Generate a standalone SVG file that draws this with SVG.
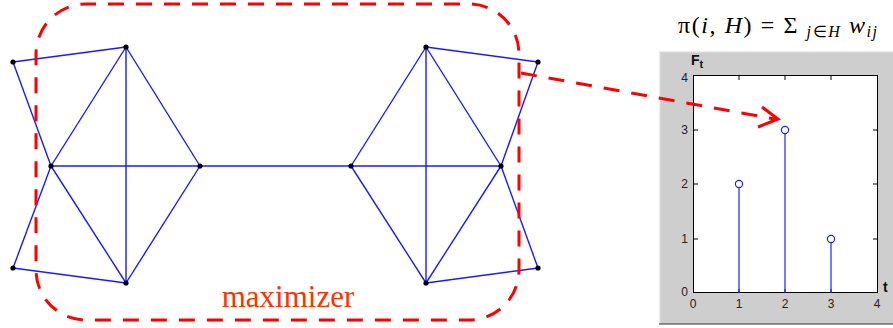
<svg xmlns="http://www.w3.org/2000/svg" width="893" height="328" viewBox="0 0 893 328">
<style>
.e{stroke:#1a1aff;stroke-width:1.4;fill:none}
.n{fill:#000}
.red{stroke:#ff0000;stroke-width:3;fill:none;stroke-dasharray:16 12}
.serif{font-family:"Liberation Serif","Times New Roman",serif}
.tk{font-family:"Liberation Sans",Arial,sans-serif;font-size:12px;fill:#222}
.tick{stroke:#000;stroke-width:1}
.stem{stroke:#2222ee;stroke-width:1.2}
.mk{stroke:#2222ee;stroke-width:1.2;fill:none}
</style>
<rect width="893" height="328" fill="#fff"/>
<g id="connectors">
<line class="e" x1="13" y1="62" x2="126" y2="47"/>
<line class="e" x1="13" y1="62" x2="51" y2="166"/>
<line class="e" x1="126" y1="47" x2="51" y2="166"/>
<line class="e" x1="126" y1="47" x2="200" y2="166"/>
<line class="e" x1="126" y1="47" x2="126" y2="283"/>
<line class="e" x1="51" y1="166" x2="200" y2="166"/>
<line class="e" x1="51" y1="166" x2="126" y2="283"/>
<line class="e" x1="200" y1="166" x2="126" y2="283"/>
<line class="e" x1="51" y1="166" x2="13" y2="268"/>
<line class="e" x1="13" y1="268" x2="126" y2="283"/>
<line class="e" x1="200" y1="166" x2="351" y2="166"/>
<line class="e" x1="426" y1="47" x2="538" y2="62"/>
<line class="e" x1="538" y1="62" x2="501" y2="166"/>
<line class="e" x1="426" y1="47" x2="351" y2="166"/>
<line class="e" x1="426" y1="47" x2="501" y2="166"/>
<line class="e" x1="426" y1="47" x2="426" y2="283"/>
<line class="e" x1="351" y1="166" x2="501" y2="166"/>
<line class="e" x1="351" y1="166" x2="426" y2="283"/>
<line class="e" x1="501" y1="166" x2="426" y2="283"/>
<line class="e" x1="501" y1="166" x2="538" y2="268"/>
<line class="e" x1="538" y1="268" x2="426" y2="283"/>
</g>
<g id="nodes">
<circle id="n1" class="n" cx="13" cy="62" r="2.6"/>
<circle id="n2" class="n" cx="126" cy="47" r="2.6"/>
<circle id="n3" class="n" cx="51" cy="166" r="2.6"/>
<circle id="n4" class="n" cx="200" cy="166" r="2.6"/>
<circle id="n5" class="n" cx="13" cy="268" r="2.6"/>
<circle id="n6" class="n" cx="126" cy="283" r="2.6"/>
<circle id="n7" class="n" cx="426" cy="47" r="2.6"/>
<circle id="n8" class="n" cx="538" cy="62" r="2.6"/>
<circle id="n9" class="n" cx="351" cy="166" r="2.6"/>
<circle id="n10" class="n" cx="501" cy="166" r="2.6"/>
<circle id="n11" class="n" cx="538" cy="268" r="2.6"/>
<circle id="n12" class="n" cx="426" cy="283" r="2.6"/>
</g>
<g id="maximizer">
<rect class="red" x="36" y="4" width="483" height="316" rx="50" ry="50" stroke-dashoffset="6"/>
<text class="serif" x="288" y="307" text-anchor="middle" font-size="31" fill="#ff3300">maximizer</text>
</g>
<g id="formula">
<text class="serif" x="678" y="33" font-size="24" fill="#000" textLength="199" lengthAdjust="spacing">π(<tspan font-style="italic">i</tspan>, <tspan font-style="italic">H</tspan>) = Σ <tspan font-style="italic" font-size="16" dy="4">j</tspan><tspan font-size="16">∈</tspan><tspan font-style="italic" font-size="16">H</tspan><tspan font-style="italic" dy="-4"> w</tspan><tspan font-style="italic" font-size="16" dy="4">ij</tspan></text>
</g>
<g id="chart">
<rect x="659" y="51" width="240" height="273" fill="#cecece"/>
<line x1="659" y1="51.5" x2="893" y2="51.5" stroke="#eeeeee" stroke-width="1.5"/>
<line x1="659.5" y1="51" x2="659.5" y2="324" stroke="#eeeeee" stroke-width="1.5"/>
<line x1="659" y1="324" x2="893" y2="324" stroke="#333" stroke-width="1.2"/>
<rect x="693.5" y="75.5" width="184" height="217" fill="#fff" stroke="#000" stroke-width="1"/>
<g class="tick">
<line x1="739" y1="293" x2="739" y2="289"/><line x1="785" y1="293" x2="785" y2="289"/><line x1="831" y1="293" x2="831" y2="289"/>
<line x1="739" y1="76" x2="739" y2="80"/><line x1="785" y1="76" x2="785" y2="80"/><line x1="831" y1="76" x2="831" y2="80"/>
<line x1="694" y1="130" x2="698" y2="130"/><line x1="694" y1="184" x2="698" y2="184"/><line x1="694" y1="239" x2="698" y2="239"/>
<line x1="877" y1="130" x2="873" y2="130"/><line x1="877" y1="184" x2="873" y2="184"/><line x1="877" y1="239" x2="873" y2="239"/>
</g>
<line class="stem" x1="739" y1="293" x2="739" y2="188"/>
<line class="stem" x1="785" y1="293" x2="785" y2="134"/>
<line class="stem" x1="831" y1="293" x2="831" y2="243"/>
<circle class="mk" cx="739" cy="184" r="3.6"/>
<circle class="mk" cx="785" cy="130" r="3.6"/>
<circle class="mk" cx="831" cy="239" r="3.6"/>
<text class="tk" x="688" y="82" text-anchor="end">4</text>
<text class="tk" x="688" y="134" text-anchor="end">3</text>
<text class="tk" x="688" y="188" text-anchor="end">2</text>
<text class="tk" x="688" y="243" text-anchor="end">1</text>
<text class="tk" x="688" y="296" text-anchor="end">0</text>
<text class="tk" x="693" y="308" text-anchor="middle">0</text>
<text class="tk" x="739" y="308" text-anchor="middle">1</text>
<text class="tk" x="785" y="308" text-anchor="middle">2</text>
<text class="tk" x="831" y="308" text-anchor="middle">3</text>
<text class="tk" x="877" y="308" text-anchor="middle">4</text>
<text x="883" y="292" font-family="'Liberation Sans',Arial,sans-serif" font-size="14" font-weight="bold" fill="#111">t</text>
<text x="691" y="65" font-family="'Liberation Sans',Arial,sans-serif" font-size="14" font-weight="bold" fill="#111">F<tspan font-size="11" dy="3">t</tspan></text>
</g>
<g id="arrow">
<line class="red" x1="521" y1="73" x2="775" y2="119" stroke-dasharray="18 12"/>
<polyline points="762,107 778,119 758,127" stroke="#ff0000" stroke-width="3" fill="none"/>
</g>
</svg>
